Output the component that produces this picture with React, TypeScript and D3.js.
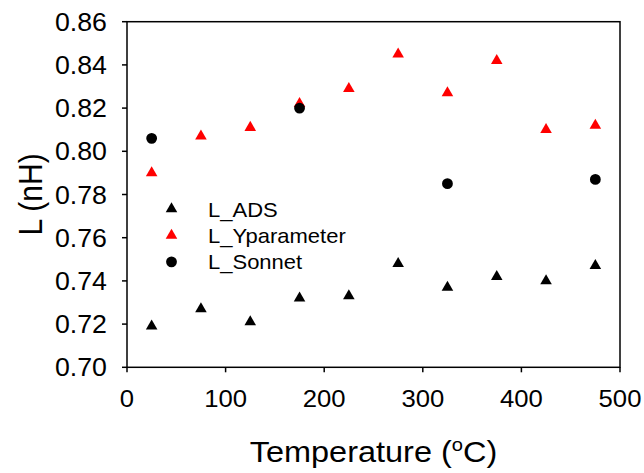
import * as d3 from "d3";
import { useEffect, useRef } from "react";

// temperature (°C) for each measured point
const temps = [25, 75, 125, 175, 225, 275, 325, 375, 425, 475];
const lAds = [0.719, 0.727, 0.721, 0.732, 0.733, 0.748, 0.737, 0.742, 0.74, 0.747];
const lYparameter = [0.79, 0.807, 0.811, 0.822, 0.829, 0.845, 0.827, 0.842, 0.81, 0.812];
const sonnetTemps = [25, 175, 325, 475];
const lSonnet = [0.806, 0.82, 0.785, 0.787];

const xTicks = [0, 100, 200, 300, 400, 500];
const yTicks = [0.7, 0.72, 0.74, 0.76, 0.78, 0.8, 0.82, 0.84, 0.86];
const legendLabels = ["L_ADS", "L_Yparameter", "L_Sonnet"];

const width = 644;
const height = 473;
const margin = { top: 21.7, right: 24, bottom: 105.7, left: 127 };
const font = "'Liberation Sans', Arial, Helvetica, sans-serif";
const stretch = 1.12;

export default function App() {
  const svgRef = useRef<SVGSVGElement | null>(null);

  useEffect(() => {
    if (!svgRef.current) return;
    drawChart(svgRef.current);
  }, []);

  return (
    <svg
      ref={svgRef}
      width={width}
      height={height}
      style={{ position: "absolute", left: 0, top: 0, background: "#fff" }}
    />
  );
}

function drawChart(svgElement: SVGSVGElement) {
  const svg = d3.select(svgElement);
  svg.selectAll("*").remove();

  const plotRight = width - margin.right;
  const plotBottom = height - margin.bottom;

  const x = d3.scaleLinear().domain([0, 500]).range([margin.left, plotRight]);
  const y = d3.scaleLinear().domain([0.7, 0.86]).range([plotBottom, margin.top]);

  // frame
  svg
    .append("rect")
    .attr("x", margin.left)
    .attr("y", margin.top)
    .attr("width", plotRight - margin.left)
    .attr("height", plotBottom - margin.top)
    .attr("fill", "none")
    .attr("stroke", "#000")
    .attr("stroke-width", 1.5);

  // y ticks + labels
  const yAxis = svg.append("g");
  yAxis
    .selectAll("line")
    .data(yTicks)
    .join("line")
    .attr("x1", margin.left - 5)
    .attr("x2", margin.left)
    .attr("y1", (d) => y(d))
    .attr("y2", (d) => y(d))
    .attr("stroke", "#000")
    .attr("stroke-width", 1.5);
  yAxis
    .selectAll("text")
    .data(yTicks)
    .join("text")
    .attr("transform", (d) => `translate(107, ${y(d) + 9}) scale(1.07, 1)`)
    .attr("text-anchor", "end")
    .style("font-family", font)
    .style("font-size", "25px")
    .text((d) => d3.format(".2f")(d));

  // x ticks + labels
  const xAxis = svg.append("g");
  xAxis
    .selectAll("line")
    .data(xTicks)
    .join("line")
    .attr("x1", (d) => x(d))
    .attr("x2", (d) => x(d))
    .attr("y1", plotBottom)
    .attr("y2", plotBottom + 5)
    .attr("stroke", "#000")
    .attr("stroke-width", 1.5);
  xAxis
    .selectAll("text")
    .data(xTicks)
    .join("text")
    .attr("transform", (d) => `translate(${x(d)}, 406.5) scale(1.07, 1)`)
    .attr("text-anchor", "middle")
    .style("font-family", font)
    .style("font-size", "24px")
    .text((d) => String(d));

  // axis titles
  const xTitle = svg
    .append("text")
    .attr("transform", `translate(${(margin.left + plotRight) / 2}, 461.5) scale(${stretch}, 1)`)
    .attr("text-anchor", "middle")
    .style("font-family", font)
    .style("font-size", "29px");
  xTitle.append("tspan").text("Temperature (");
  xTitle.append("tspan").attr("dy", -11).style("font-size", "18px").text("o");
  xTitle.append("tspan").attr("dy", 11).text("C)");

  svg
    .append("text")
    .attr(
      "transform",
      `translate(41.5, ${(margin.top + plotBottom) / 2}) scale(${stretch}, 1) rotate(-90)`
    )
    .attr("text-anchor", "middle")
    .style("font-family", font)
    .style("font-size", "30px")
    .text("L (nH)");

  const triangle = d3.symbol().type(d3.symbolTriangle).size(58);
  const circle = d3.symbol().type(d3.symbolCircle).size(92);

  const series = [
    { xs: temps, ys: lAds, path: triangle(), fill: "#000" },
    { xs: temps, ys: lYparameter, path: triangle(), fill: "#ff0000" },
    { xs: sonnetTemps, ys: lSonnet, path: circle(), fill: "#000" },
  ];

  series.forEach((s) => {
    svg
      .append("g")
      .selectAll("path")
      .data(s.ys)
      .join("path")
      .attr("d", s.path)
      .attr("fill", s.fill)
      .attr("transform", (d, i) => `translate(${x(s.xs[i])}, ${y(d)})`);
  });

  // legend
  const legend = svg.append("g");
  legendLabels.forEach((label, i) => {
    const rowY = 209 + i * 26.4;
    legend
      .append("path")
      .attr("d", series[i].path)
      .attr("fill", series[i].fill)
      .attr("transform", `translate(171.5, ${rowY})`);
    legend
      .append("text")
      .attr("transform", `translate(208, ${rowY + 7.5}) scale(1.1, 1)`)
      .style("font-family", font)
      .style("font-size", "20px")
      .text(label);
  });
}
